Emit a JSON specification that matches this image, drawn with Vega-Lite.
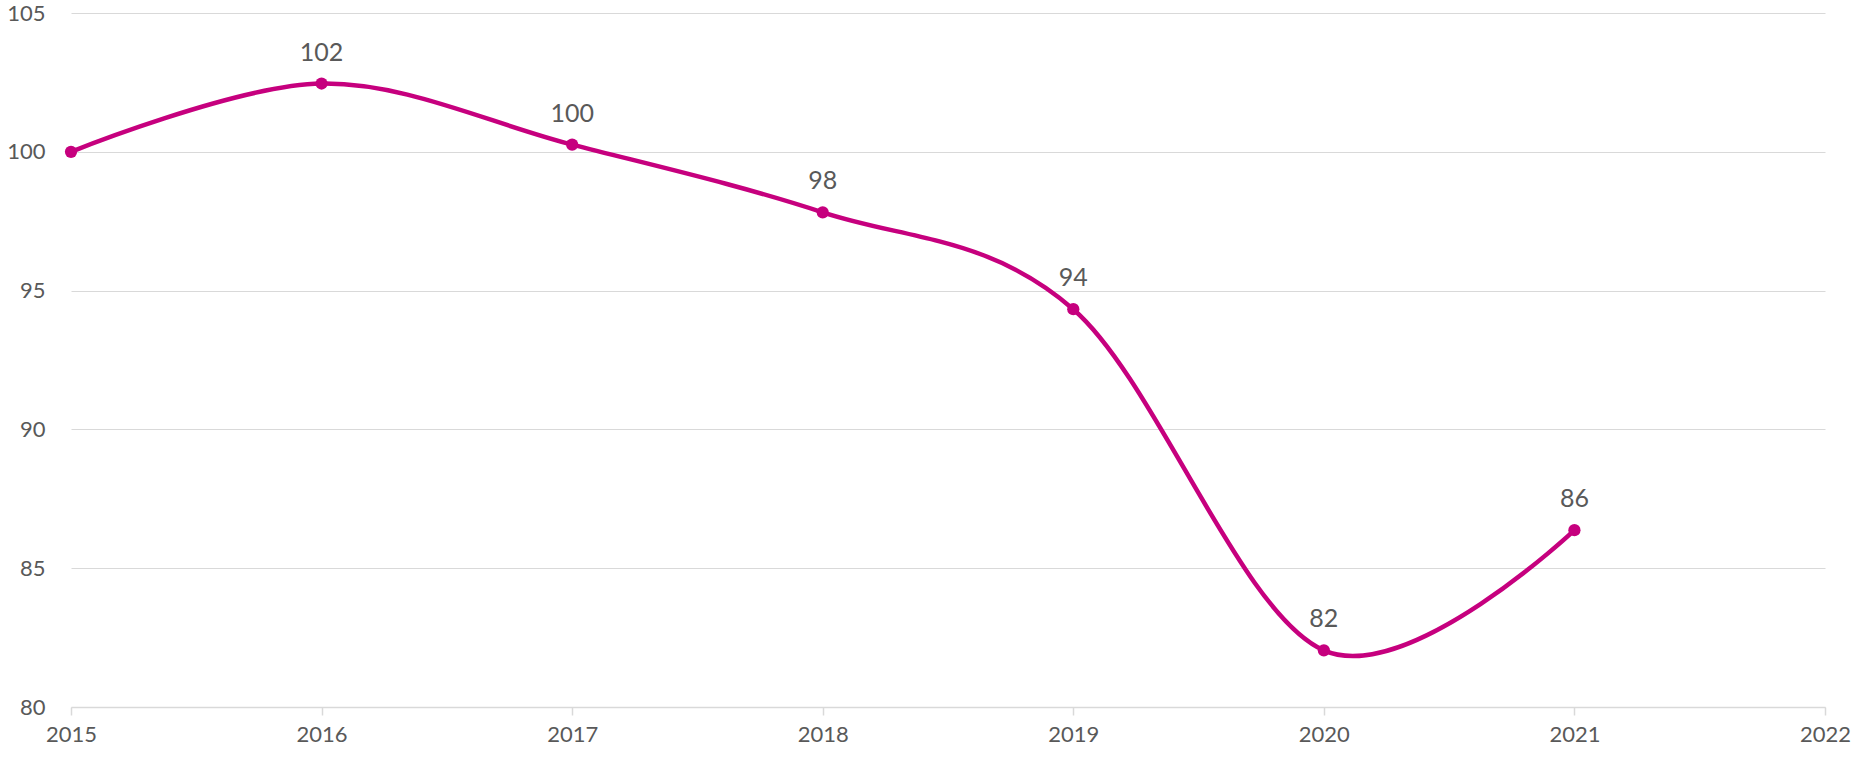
{
  "$schema": "https://vega.github.io/schema/vega-lite/v6.json",
  "width": 1754,
  "height": 694,
  "autosize": {"type": "none"},
  "padding": {"left": 71, "top": 13, "right": 31, "bottom": 50},
  "background": "white",
  "config": {
    "view": {"stroke": null},
    "font": "Lato"
  },
  "data": {
    "values": [
      {"year": 2015, "value": 100.0},
      {"year": 2016, "value": 102.46},
      {"year": 2017, "value": 100.26},
      {"year": 2018, "value": 97.82},
      {"year": 2019, "value": 94.33},
      {"year": 2020, "value": 82.04},
      {"year": 2021, "value": 86.37}
    ]
  },
  "encoding": {
    "x": {
      "field": "year",
      "type": "quantitative",
      "scale": {"domain": [2015, 2022], "nice": false, "zero": false},
      "axis": {
        "title": null,
        "values": [2015, 2016, 2017, 2018, 2019, 2020, 2021, 2022],
        "format": "d",
        "grid": false,
        "domain": true,
        "domainColor": "#d9d9d9",
        "domainWidth": 1.5,
        "ticks": true,
        "tickColor": "#d9d9d9",
        "tickSize": 8,
        "tickWidth": 1.5,
        "labelFont": "Lato",
        "labelFontSize": 22,
        "labelColor": "#595959",
        "labelPadding": 9,
        "labelFlush": false
      }
    },
    "y": {
      "field": "value",
      "type": "quantitative",
      "scale": {"domain": [80, 105], "nice": false, "zero": false},
      "axis": {
        "title": null,
        "values": [80, 85, 90, 95, 100, 105],
        "grid": true,
        "gridColor": "#d9d9d9",
        "gridWidth": 1.2,
        "domain": false,
        "ticks": false,
        "labelFont": "Lato",
        "labelFontSize": 22,
        "labelColor": "#595959",
        "labelPadding": 26
      }
    }
  },
  "layer": [
    {
      "mark": {"type": "line", "interpolate": "cardinal", "tension": 0, "color": "#C6007E", "strokeWidth": 4.5}
    },
    {
      "mark": {"type": "point", "filled": true, "opacity": 1, "color": "#C6007E", "size": 150}
    },
    {
      "transform": [{"filter": "datum.year > 2015"}],
      "mark": {"type": "text", "baseline": "alphabetic", "align": "center", "dy": -23, "fontSize": 25, "font": "Lato", "color": "#595959"},
      "encoding": {
        "text": {"field": "value", "type": "quantitative", "format": ".0f"}
      }
    }
  ]
}
